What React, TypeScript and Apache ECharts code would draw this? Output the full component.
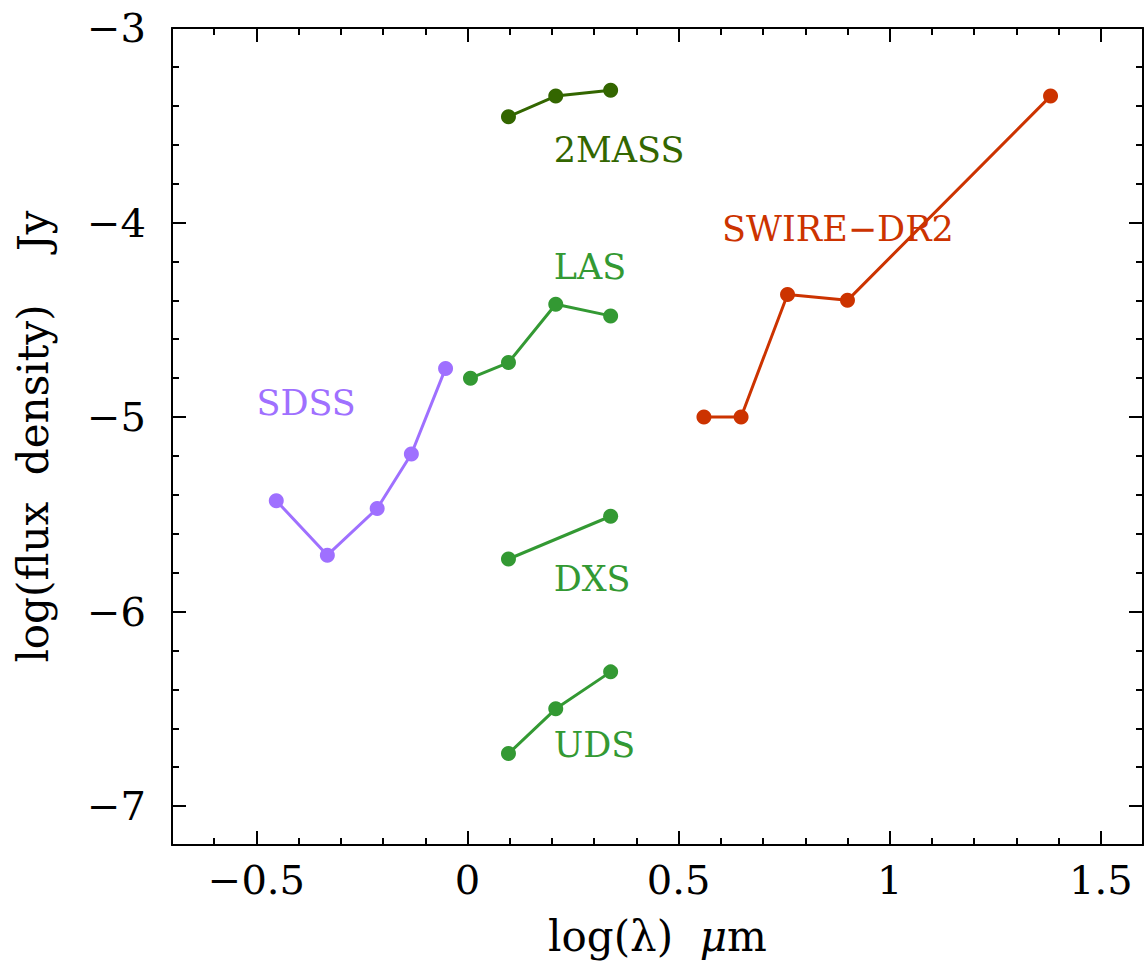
import React, { useEffect, useRef } from "react";
import * as echarts from "echarts";

const xMin = -0.7;
const xMax = 1.6;
const yMin = -7.2;
const yMax = -3;
const xMajorTicks = [-0.5, 0, 0.5, 1, 1.5];
const yMajorTicks = [-7, -6, -5, -4, -3];

const sdss: number[][] = [[-0.453, -5.43], [-0.332, -5.71], [-0.214, -5.47], [-0.133, -5.19], [-0.052, -4.75]];
const las: number[][] = [[0.007, -4.80], [0.097, -4.72], [0.209, -4.42], [0.339, -4.48]];
const twomass: number[][] = [[0.097, -3.456], [0.209, -3.35], [0.339, -3.32]];
const dxs: number[][] = [[0.097, -5.73], [0.339, -5.51]];
const uds: number[][] = [[0.097, -6.73], [0.209, -6.50], [0.339, -6.31]];
const swire: number[][] = [[0.560, -5.0], [0.648, -5.0], [0.758, -4.37], [0.900, -4.40], [1.381, -3.35]];

const labelNames = ["SDSS", "LAS", "2MASS", "DXS", "UDS", "SWIRE\u2212DR2"];
const labelPositions: number[][] = [[-0.5, -4.93], [0.204, -4.23], [0.204, -3.625], [0.204, -5.83], [0.204, -6.685], [0.603, -4.035]];
const labelColors = ["#9f70ff", "#339933", "#336600", "#339933", "#339933", "#cc3300"];

const FONT = "DejaVu Serif";

function fmt(v: number): string {
  return v < 0 ? "\u2212" + String(Math.abs(v)) : String(v);
}

export default function App() {
  const ref = useRef<HTMLDivElement>(null);
  useEffect(() => {
    if (!ref.current) return;
    const chart = echarts.init(ref.current, null, { renderer: "svg" });
    const lineCol = "#000";
    const mkX = (pos: string, major: boolean, showLabel: boolean, name?: string) => ({
      type: "value",
      min: xMin,
      max: xMax,
      position: pos,
      ...(major ? {} : { interval: 0.1 }),
      name: name || "",
      nameLocation: "middle",
      nameGap: 70,
      nameTextStyle: {
        fontFamily: FONT,
        fontSize: 42,
        color: "#000",
        rich: { i: { fontFamily: FONT, fontStyle: "italic", fontSize: 42, color: "#000" } },
      },
      axisLine: { show: major, onZero: false, lineStyle: { color: lineCol, width: 2 } },
      axisTick: major
        ? { show: true, inside: true, length: 14, lineStyle: { color: lineCol, width: 2 }, customValues: xMajorTicks }
        : { show: true, inside: true, length: 7, lineStyle: { color: lineCol, width: 2 } },
      axisLabel: major && showLabel
        ? { show: true, customValues: xMajorTicks, formatter: fmt, fontFamily: FONT, fontSize: 40, color: "#000", margin: 15 }
        : { show: false },
      splitLine: { show: false },
    });
    const mkY = (pos: string, major: boolean, showLabel: boolean, name?: string) => ({
      type: "value",
      min: yMin,
      max: yMax,
      position: pos,
      ...(major ? {} : { interval: 0.2 }),
      name: name || "",
      nameLocation: "middle",
      nameGap: 118,
      nameRotate: 90,
      nameTextStyle: { fontFamily: FONT, fontSize: 42, color: "#000" },
      axisLine: { show: major, onZero: false, lineStyle: { color: lineCol, width: 2 } },
      axisTick: major
        ? { show: true, inside: true, length: 14, lineStyle: { color: lineCol, width: 2 }, customValues: yMajorTicks }
        : { show: true, inside: true, length: 7, lineStyle: { color: lineCol, width: 2 } },
      axisLabel: major && showLabel
        ? { show: true, customValues: yMajorTicks, formatter: fmt, fontFamily: FONT, fontSize: 40, color: "#000", margin: 26 }
        : { show: false },
      splitLine: { show: false },
    });

    const lineSeries = (data: number[][], color: string) => ({
      type: "line",
      data,
      xAxisIndex: 0,
      yAxisIndex: 0,
      symbol: "circle",
      symbolSize: 15,
      showSymbol: true,
      lineStyle: { color, width: 3 },
      itemStyle: { color, opacity: 1 },
      silent: true,
    });

    const labelSeries = labelNames.map((n, i) => ({
      type: "scatter",
      xAxisIndex: 0,
      yAxisIndex: 0,
      symbolSize: 0,
      silent: true,
      itemStyle: { opacity: 1, color: labelColors[i] },
      data: [labelPositions[i]],
      label: {
        show: true,
        position: "right",
        distance: 0,
        formatter: n,
        fontFamily: FONT,
        fontSize: 35,
        color: labelColors[i],
        opacity: 1,
        verticalAlign: "middle",
      },
    }));

    chart.setOption({
      animation: false,
      backgroundColor: "#fff",
      grid: { left: 172, top: 28, right: 3, bottom: 128, containLabel: false },
      xAxis: [
        mkX("bottom", true, true, "log(\u03bb)  {i|\u03bc}m"),
        mkX("bottom", false, false),
        mkX("top", true, false),
        mkX("top", false, false),
      ],
      yAxis: [
        mkY("left", true, true, "log(flux  density)    Jy"),
        mkY("left", false, false),
        mkY("right", true, false),
        mkY("right", false, false),
      ],
      series: [
        lineSeries(sdss, "#9f70ff"),
        lineSeries(las, "#339933"),
        lineSeries(twomass, "#336600"),
        lineSeries(dxs, "#339933"),
        lineSeries(uds, "#339933"),
        lineSeries(swire, "#cc3300"),
        ...labelSeries,
      ],
    });
    return () => chart.dispose();
  }, []);
  return (
    <div
      ref={ref}
      style={{ position: "fixed", left: 0, top: 0, width: 1146, height: 973, background: "#fff" }}
    />
  );
}
